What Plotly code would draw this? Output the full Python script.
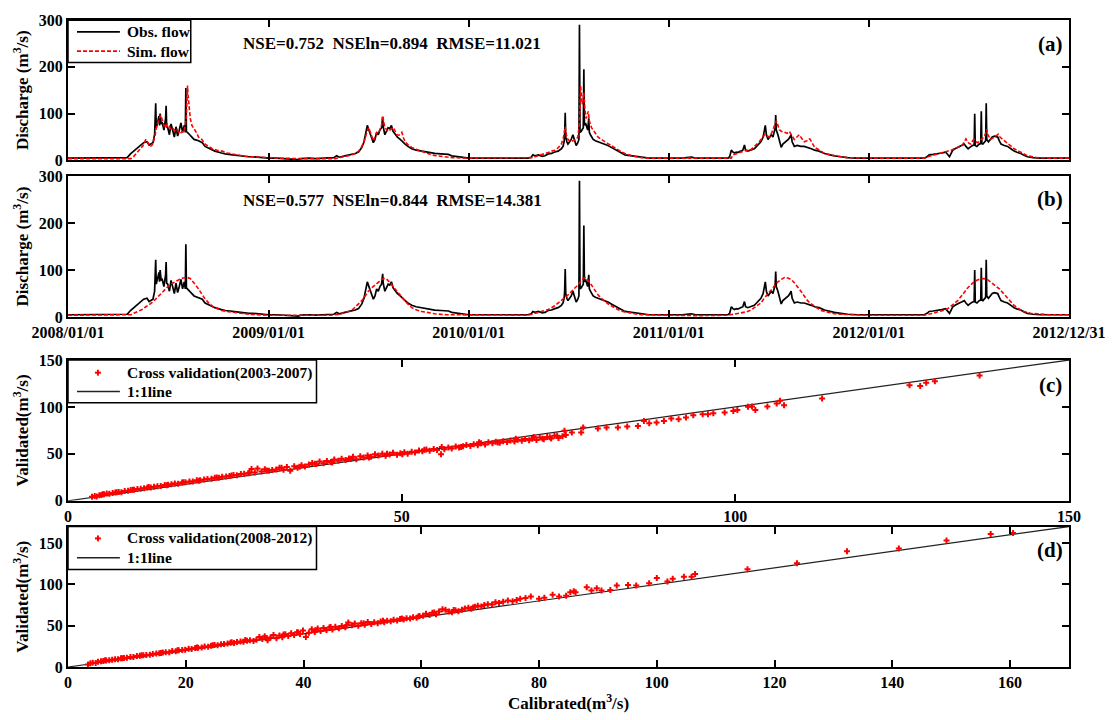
import pandas as pd
import plotly.graph_objects as go

# ---------------- data ----------------
START = "2008-01-01"
# observed flow (day offset from 2008-01-01, m3/s)
obs_day = [0, 20, 45, 50, 75, 95, 108, 114, 120, 126, 132, 138, 144, 148, 152, 155, 158, 160, 161, 164, 166, 167, 168, 170,
           172, 175, 178, 179, 180, 182, 185, 188, 191, 194, 197, 200, 203, 206, 209, 212, 214, 215, 216, 218, 222, 226,
           230, 238, 245, 250, 260, 268, 280, 287, 300, 311, 330, 336, 355, 366,
           380, 400, 415, 420, 425, 440, 451, 469, 485, 490, 495, 505, 515, 524, 530, 536, 540, 542, 544, 546, 548, 551,
           554, 557, 560, 563, 566, 569, 572, 574, 575, 578, 581, 584, 587, 590, 593, 597, 601, 606, 610, 615, 620, 627,
           635, 645, 655, 669, 680, 694, 700, 710, 718, 731, 754, 791, 820, 839,
           845, 848, 852, 858, 865, 870, 876, 882, 888, 894, 900, 903, 905, 906, 907, 908, 910, 912, 915, 918, 921, 924,
           927, 930, 932, 933, 934, 936, 938, 940, 941, 942, 944, 946, 948, 950, 951, 953, 955, 958, 962, 967, 972, 979,
           985, 991, 997, 1003, 1010, 1016, 1022, 1028, 1037, 1046, 1060, 1076, 1098, 1120, 1137, 1145, 1161, 1185, 1204,
           1207, 1210, 1213, 1216, 1219, 1222, 1225, 1228, 1231, 1234, 1236, 1240, 1244, 1248, 1252, 1256, 1260, 1264,
           1268, 1270, 1272, 1274, 1277, 1280, 1283, 1286, 1288, 1290, 1291, 1292, 1295, 1298, 1301, 1304, 1307, 1310,
           1314, 1317, 1319, 1321, 1325, 1330, 1337, 1343, 1350, 1356, 1362, 1370, 1380, 1390, 1398, 1410, 1422, 1440,
           1461, 1490, 1513, 1540, 1562, 1567, 1571, 1578, 1586, 1594, 1601, 1605, 1608, 1611, 1614, 1618, 1622, 1626,
           1630, 1635, 1638, 1642, 1645, 1647, 1650, 1653, 1654, 1655, 1658, 1662, 1665, 1666, 1667, 1669, 1672, 1674,
           1675, 1676, 1679, 1683, 1686, 1690, 1696, 1699, 1702, 1708, 1714, 1720, 1726, 1732, 1738, 1744, 1750, 1760,
           1774, 1800, 1826]
obs_val = [5, 5, 6, 6, 6, 5, 6, 14, 20, 25, 30, 38, 40, 33, 36, 38, 55, 122, 70, 85, 95, 75, 100, 78,
           80, 65, 90, 117, 72, 70, 55, 78, 60, 50, 72, 52, 65, 80, 60, 75, 60, 155, 62, 60, 55, 50,
           45, 42, 38, 30, 25, 20, 16, 14, 12, 10, 8, 8, 6, 5,
           5, 4, 3, 2, 4, 5, 4, 5, 6, 10, 7, 10, 12, 15, 18, 28, 40, 52, 65, 75, 68, 60,
           48, 38, 45, 60, 55, 65, 70, 92, 72, 55, 62, 70, 68, 75, 62, 55, 50, 45, 40, 35, 30, 25,
           22, 20, 17, 15, 14, 13, 10, 8, 7, 5, 5, 5, 5, 5,
           7, 12, 10, 12, 9, 10, 14, 15, 18, 20, 25, 30, 40, 55, 102, 50, 40, 35, 40, 45, 55, 45,
           32, 38, 45, 290, 60, 62, 65, 70, 195, 75, 80, 72, 65, 90, 60, 55, 50, 45, 42, 40, 38, 36,
           32, 28, 24, 20, 15, 12, 11, 10, 8, 6, 5, 5, 5, 5, 7, 5, 5, 5, 5,
           8, 22, 18, 16, 18, 17, 19, 20, 22, 33, 22, 20, 22, 24, 25, 30, 35, 40,
           50, 60, 75, 55, 45, 50, 55, 50, 60, 70, 97, 65, 55, 40, 28, 35, 38, 40,
           45, 50, 55, 40, 30, 32, 30, 30, 28, 25, 22, 20, 15, 12, 10, 8, 6, 5,
           5, 5, 5, 5, 5, 8, 12, 13, 14, 16, 18, 12, 8, 15, 22, 25, 28, 30,
           32, 35, 30, 25, 28, 30, 32, 33, 100, 32, 30, 35, 36, 105, 36, 35, 40, 42,
           122, 45, 40, 45, 50, 52, 50, 42, 35, 32, 30, 25, 20, 17, 15, 11, 8, 6,
           5, 5, 5]

# simulated flow, panel (a)
sima_day = [0, 30, 60, 90, 115, 118, 123, 128, 132, 137, 142, 146, 150, 153, 156, 159, 162, 165, 169, 171, 173, 176, 178,
            181, 184, 187, 190, 193, 196, 199, 202, 205, 208, 211, 214, 216, 217, 218, 219, 221, 223, 226, 229, 232, 235,
            238, 241, 244, 250, 256, 263, 272, 281, 290, 299, 310, 323, 335, 348, 365, 384, 420, 458,
            487, 495, 505, 515, 524, 530, 536, 540, 543, 545, 548, 550, 553, 555, 557, 560, 563, 566, 569, 572, 574, 576,
            578, 581, 584, 587, 590, 594, 597, 600, 604, 607, 609, 612, 615, 620, 627, 635, 645, 655, 663, 672, 682, 700,
            731, 780, 839,
            846, 852, 858, 864, 870, 876, 882, 888, 894, 900, 904, 907, 909, 912, 915, 918, 921, 924, 927, 930, 933, 935,
            937, 938, 940, 941, 943, 945, 947, 949, 951, 952, 955, 958, 962, 967, 973, 979, 985, 991, 997, 1003, 1010,
            1016, 1022, 1028, 1037, 1046, 1060, 1088, 1150, 1210,
            1213, 1217, 1222, 1228, 1234, 1238, 1243, 1248, 1252, 1256, 1261, 1266, 1271, 1275, 1280, 1284, 1288, 1290,
            1292, 1295, 1298, 1302, 1307, 1312, 1316, 1319, 1322, 1325, 1329, 1334, 1338, 1343, 1348, 1352, 1354, 1358,
            1362, 1368, 1374, 1380, 1390, 1398, 1410, 1422, 1440, 1461,
            1500, 1562, 1568, 1574, 1580, 1586, 1592, 1598, 1605, 1611, 1617, 1623, 1629, 1633, 1636, 1638, 1641, 1644,
            1647, 1650, 1653, 1656, 1659, 1662, 1666, 1669, 1671, 1674, 1676, 1678, 1680, 1683, 1687, 1691, 1695, 1697,
            1700, 1705, 1709, 1714, 1720, 1726, 1732, 1738, 1744, 1750, 1758, 1768, 1790, 1826]
sima_val = [4, 4, 4, 4, 4, 6, 12, 18, 25, 32, 45, 38, 30, 32, 40, 55, 75, 85, 97, 90, 80, 72, 70,
            78, 75, 68, 70, 65, 62, 66, 60, 58, 62, 60, 75, 95, 130, 160, 140, 110, 90, 75, 70, 65, 58,
            50, 48, 45, 35, 30, 25, 22, 20, 16, 14, 11, 9, 8, 7, 6, 5, 4, 4,
            4, 6, 8, 11, 15, 20, 30, 40, 52, 62, 70, 65, 55, 48, 42, 50, 60, 58, 65, 75, 96, 80,
            70, 66, 62, 65, 68, 70, 62, 55, 54, 58, 60, 48, 40, 34, 28, 24, 20, 15, 12, 10, 8, 6,
            5, 5, 5,
            6, 8, 10, 13, 15, 17, 20, 22, 27, 35, 50, 72, 55, 45, 42, 40, 42, 44, 45, 50, 80, 160,
            130, 120, 135, 145, 110, 90, 95, 105, 85, 80, 70, 65, 58, 50, 45, 40, 36, 32, 27, 22, 18,
            15, 12, 10, 8, 6, 5, 5, 4, 5,
            12, 14, 15, 18, 20, 22, 20, 25, 30, 34, 40, 48, 55, 52, 50, 60, 70, 78,
            85, 75, 65, 62, 60, 58, 62, 55, 50, 45, 50, 55, 48, 40, 42, 46, 45, 35,
            28, 24, 20, 15, 12, 10, 8, 6, 5, 5,
            5, 5, 8, 10, 12, 14, 15, 18, 20, 22, 25, 28, 30, 36, 42, 46, 40, 36,
            35, 42, 45, 40, 38, 40, 45, 48, 50, 58, 67, 55, 50, 45, 48, 52, 55, 56,
            50, 45, 40, 35, 30, 25, 21, 18, 14, 10, 8, 6, 5, 5]

# simulated flow, panel (b)
simb_day = [0, 60, 105, 115, 120, 128, 135, 142, 150, 158, 165, 172, 180, 188, 195, 203, 210, 218, 223, 228, 233, 238,
            243, 248, 253, 258, 265, 272, 280, 290, 300, 315, 330, 350, 365, 420, 480,
            495, 505, 512, 520, 528, 536, 542, 548, 555, 563, 568, 572, 577, 581, 586, 590, 595, 600, 606, 612, 619, 627,
            636, 645, 657, 669, 690, 706, 760, 839,
            846, 852, 864, 876, 888, 900, 906, 913, 918, 924, 930, 935, 940, 944, 949, 955, 961, 967, 973, 979, 985, 994,
            1003, 1012, 1022, 1034, 1046, 1080, 1150, 1204,
            1216, 1228, 1237, 1246, 1255, 1264, 1270, 1277, 1283, 1289, 1295, 1301, 1307, 1313, 1319, 1325, 1331, 1337,
            1343, 1349, 1356, 1362, 1368, 1374, 1386, 1398, 1410, 1435, 1459, 1520,
            1562, 1574, 1586, 1596, 1605, 1614, 1623, 1632, 1641, 1650, 1659, 1665, 1671, 1677, 1683, 1691, 1699, 1705,
            1711, 1718, 1726, 1735, 1744, 1756, 1768, 1790, 1826]
simb_val = [4, 4, 4, 5, 8, 12, 16, 22, 28, 36, 45, 53, 62, 70, 75, 80, 83, 84, 82, 76, 68, 60,
            50, 42, 35, 28, 22, 18, 14, 12, 10, 8, 6, 5, 4, 4, 4,
            6, 9, 12, 17, 25, 35, 45, 55, 63, 70, 76, 80, 82, 81, 76, 70, 62, 55, 46, 38, 29, 20,
            15, 12, 9, 7, 5, 5, 4, 4,
            6, 8, 12, 16, 24, 35, 42, 48, 54, 60, 68, 76, 82, 84, 78, 68, 56, 47, 40, 33, 28, 22,
            16, 12, 9, 7, 5, 4, 3, 4,
            6, 8, 11, 15, 22, 30, 40, 50, 60, 68, 75, 80, 84, 83, 80, 73, 65, 55,
            45, 35, 28, 22, 18, 14, 10, 7, 6, 5, 4, 4,
            4, 7, 10, 14, 18, 26, 35, 48, 62, 72, 79, 81, 82, 80, 75, 68, 60, 52,
            45, 35, 25, 17, 12, 8, 7, 5, 5]

date_ticks = ["2008-01-01", "2009-01-01", "2010-01-01", "2011-01-01", "2012-01-01", "2012-12-31"]
date_labels = ["2008/01/01", "2009/01/01", "2010/01/01", "2011/01/01", "2012/01/01", "2012/12/31"]

# cross validation (2003-2007): calibrated vs validated
c_cal = [3.6, 4.0, 4.3, 4.7, 5.0, 5.4, 5.8, 6.2, 6.7, 7.1, 7.6, 8.0, 8.5, 9.0, 9.4, 9.9, 10.4, 10.9, 11.4, 11.9,
         12.4, 12.9, 13.4, 13.9, 14.5, 15.0, 15.5, 16.0, 16.5, 17.1, 17.6, 18.2, 18.7, 19.3, 19.8, 20.4, 20.9, 21.5,
         22.0, 22.6, 23.1, 23.7, 24.2, 24.8, 25.3, 25.9, 26.4, 27.0, 27.5, 28.0, 28.4, 29.0, 29.5, 30.1, 30.6, 31.2,
         31.7, 32.3, 32.8, 33.3, 33.9, 34.4, 35.0, 35.5, 36.1, 36.6, 37.2, 37.7, 38.3, 38.8, 39.4, 39.9, 40.5, 41.0,
         41.6, 42.1, 42.7, 43.2, 43.8, 44.3, 44.9, 45.4, 46.0, 46.5, 47.1, 47.6, 48.2, 48.7, 49.3, 49.8, 50.4, 50.9,
         51.5, 52.0, 52.6, 53.1, 53.7, 54.2, 54.8, 55.3, 55.9, 56.4, 57.0, 57.5, 58.1, 58.6, 59.2, 59.7, 60.3, 60.8,
         61.4, 61.9, 62.5, 63.0, 63.6, 64.1, 64.7, 65.2, 65.8, 66.3, 66.9, 67.4, 68.0, 68.5, 69.1, 69.6, 70.2, 70.7,
         71.1, 71.3, 71.8, 72.2, 72.4, 72.9, 73.3, 73.5, 74.1, 74.4, 74.6, 75.5, 76.9, 77.2, 79.4, 80.7, 82.4, 83.8,
         85.4, 86.3, 87.1, 88.2, 89.3, 90.4, 91.5, 92.6, 93.7, 95.1, 95.9, 96.7, 98.4, 99.7, 100.3, 101.9, 102.5,
         103.0, 104.8, 106.2, 106.7, 107.3, 113.0, 126.1, 127.7, 128.6, 129.9, 136.6,
         5.2, 7.3, 9.7, 12.1, 14.8, 17.3, 19.6, 22.3, 24.5, 27.2, 29.8, 32.0, 34.7, 37.0, 39.6, 42.4, 45.1, 47.8,
         50.1, 53.4, 56.0, 58.9, 61.6, 64.4, 67.1, 69.8]
c_val = [4.2, 5.0, 4.6, 5.8, 6.2, 6.9, 7.7, 7.5, 8.4, 8.9, 9.5, 9.2, 10.4, 10.8, 11.5, 11.7, 12.6, 12.9, 13.3, 14.1,
         14.2, 15.0, 15.6, 15.7, 16.8, 17.1, 17.6, 18.3, 18.2, 19.4, 19.8, 20.5, 20.6, 21.8, 21.9, 22.7, 23.2, 23.6,
         24.5, 24.6, 25.7, 25.9, 26.3, 27.5, 27.2, 28.6, 28.9, 29.3, 33.8, 30.1, 34.5, 31.2, 33.6, 31.9, 32.8, 33.4,
         35.2, 33.1, 35.9, 32.0, 36.8, 35.1, 37.9, 36.5, 38.6, 40.4, 39.1, 41.8, 40.0, 42.5, 41.3, 43.9, 42.6, 44.7,
         43.5, 45.2, 46.8, 44.3, 47.5, 46.1, 48.3, 46.9, 49.6, 48.2, 50.1, 47.9, 49.4, 51.3, 49.0, 50.6, 51.8, 50.2,
         52.3, 51.4, 53.5, 52.7, 54.6, 53.3, 55.1, 54.0, 49.6, 54.9, 56.8, 55.6, 57.9, 56.7, 58.1, 59.5, 58.4, 60.2,
         59.1, 61.3, 60.0, 62.4, 61.2, 63.0, 61.8, 63.5, 62.6, 64.2, 63.1, 65.0, 63.9, 65.8, 64.6, 66.2, 64.8, 67.4,
         66.5, 65.5, 68.0, 67.6, 66.4, 69.3, 69.3, 67.0, 68.8, 74.6, 70.1, 72.8, 72.8, 78.1, 77.0, 78.1, 78.1, 79.2,
         79.8, 85.1, 82.6, 83.4, 85.1, 87.6, 87.0, 88.7, 91.2, 92.3, 92.3, 93.3, 94.0, 95.8, 96.8, 100.3, 100.6,
         96.8, 100.6, 103.8, 106.7, 101.7, 109.1, 123.2, 122.2, 125.7, 127.4, 133.4,
         7.1, 9.0, 11.9, 14.6, 16.5, 19.8, 21.4, 24.8, 26.9, 29.9, 32.3, 35.3, 36.4, 39.5, 40.9, 44.6, 46.2, 50.0,
         49.7, 54.5, 57.4, 57.2, 62.3, 62.2, 66.0, 67.9]

# cross validation (2008-2012)
d_cal = [3.4, 3.8, 4.2, 4.7, 5.1, 5.6, 6.0, 6.5, 7.0, 7.5, 8.0, 8.5, 9.0, 9.5, 10.0, 10.6, 11.1, 11.7, 12.2, 12.8,
         13.3, 13.9, 14.4, 15.0, 15.5, 16.1, 16.6, 17.2, 17.7, 18.3, 18.8, 19.4, 19.9, 20.5, 21.0, 21.6, 22.1, 22.7,
         23.2, 23.8, 24.3, 24.9, 25.4, 26.0, 26.5, 27.1, 27.6, 28.2, 28.7, 29.3, 29.8, 30.4, 30.9, 31.5, 32.0, 32.5,
         33.0, 33.4, 33.9, 34.4, 34.9, 35.4, 35.9, 36.4, 36.9, 37.4, 37.9, 38.4, 38.9, 39.4, 39.9, 40.4, 40.9, 41.4,
         41.9, 42.4, 42.9, 43.4, 43.9, 44.4, 44.9, 45.4, 46.0, 46.5, 47.1, 47.6, 48.2, 48.7, 49.3, 49.8, 50.4, 50.9,
         51.5, 52.0, 52.6, 53.1, 53.7, 54.2, 54.8, 55.3, 55.9, 56.4, 57.0, 57.5, 58.1, 58.6, 59.2, 59.7, 60.3, 60.8,
         61.4, 61.9, 62.5, 63.0, 63.6, 64.1, 64.7, 65.2, 65.8, 66.3, 66.9, 67.4, 68.0, 68.5, 69.1, 69.6, 70.2, 70.7,
         71.3, 72.0, 72.6, 73.2, 73.9, 74.7, 75.5, 76.2, 76.8, 77.7, 78.6, 80.0, 80.9, 82.3, 83.4, 84.6, 85.3, 85.9,
         86.2, 88.1, 88.9, 89.8, 90.6, 92.1, 93.2, 95.1, 96.5, 98.7, 100.0, 101.8, 102.7, 104.6, 105.9, 106.5,
         115.4, 123.8, 132.3, 141.1, 149.2, 156.7, 160.5,
         6.3, 9.2, 12.5, 15.8, 18.6, 21.9, 24.6, 27.8, 30.1, 33.7, 36.6, 39.1, 42.0, 44.6, 47.3, 50.2, 53.5, 56.7,
         59.5, 62.2, 65.5, 68.8]
d_val = [3.0, 4.5, 5.2, 4.9, 6.3, 6.9, 7.2, 8.0, 8.1, 8.9, 9.5, 9.4, 10.6, 10.9, 11.3, 12.1, 12.0, 13.2, 13.5, 14.1,
         14.6, 14.9, 15.8, 16.3, 16.5, 17.4, 17.9, 18.0, 19.3, 19.2, 20.3, 20.6, 20.9, 22.0, 21.8, 22.9, 23.4, 23.6,
         24.7, 24.5, 25.8, 26.6, 26.3, 27.5, 27.9, 28.4, 29.2, 29.0, 30.3, 30.9, 30.6, 31.8, 32.3, 31.4, 33.1, 36.2,
         34.0, 37.1, 32.5, 35.8, 38.6, 34.7, 38.0, 36.1, 39.7, 37.5, 40.8, 38.6, 42.1, 40.0, 44.3, 36.2, 41.5, 45.8,
         42.4, 46.5, 43.6, 47.2, 44.7, 47.9, 45.5, 48.8, 47.0, 49.6, 48.1, 53.9, 50.4, 52.5, 50.0, 53.0, 51.2, 54.6,
         52.0, 54.1, 52.8, 55.0, 54.2, 56.0, 55.3, 57.1, 56.4, 58.0, 57.4, 58.9, 58.6, 60.3, 59.7, 61.6, 62.0, 64.3,
         62.8, 65.5, 63.7, 67.2, 70.0, 69.4, 67.3, 66.4, 68.6, 67.5, 69.2, 70.8, 71.6, 70.5, 72.9, 74.0, 73.2, 75.1,
         76.0, 75.6, 78.4, 77.3, 79.1, 80.5, 79.6, 81.2, 82.6, 83.4, 85.3, 82.6, 83.8, 87.3, 85.4, 86.2, 90.5, 91.6,
         90.5, 96.5, 92.5, 95.3, 92.5, 93.3, 98.5, 99.3, 98.5, 101.2, 107.6, 103.6, 106.8, 109.2, 109.2, 112.4,
         118.4, 125.5, 140.2, 143.4, 153.0, 160.9, 162.1,
         8.1, 10.6, 14.2, 17.0, 20.4, 23.7, 26.2, 29.9, 32.6, 35.1, 39.4, 41.9, 44.4, 48.5, 50.6, 52.9, 55.9, 58.8,
         61.0, 66.0, 68.9, 72.1]

one_c = [0, 150]
one_d = [0, 170]

# ---------------- figure ----------------
FONT = "Liberation Serif"
W, H = 1117, 720
L, R, T, B = 68, 46, 13, 53


def px(xp):
    return (xp - L) / (W - L - R)


def py(yp):
    return (H - B - yp) / (H - T - B)


base = pd.Timestamp(START)
obs_x = base + pd.to_timedelta(obs_day, unit="D")
sima_x = base + pd.to_timedelta(sima_day, unit="D")
simb_x = base + pd.to_timedelta(simb_day, unit="D")

RED = "#ff0000"
fig = go.Figure()
fig.add_trace(go.Scatter(x=obs_x, y=obs_val, mode="lines", name="Obs. flow",
                         line=dict(color="black", width=1.7), xaxis="x", yaxis="y"))
fig.add_trace(go.Scatter(x=sima_x, y=sima_val, mode="lines", name="Sim. flow",
                         line=dict(color=RED, width=1.6, dash="4px,2px"), xaxis="x", yaxis="y"))
fig.add_trace(go.Scatter(x=obs_x, y=obs_val, mode="lines", name="Obs. flow",
                         line=dict(color="black", width=1.7), xaxis="x2", yaxis="y2"))
fig.add_trace(go.Scatter(x=simb_x, y=simb_val, mode="lines", name="Sim. flow",
                         line=dict(color=RED, width=1.6, dash="4px,2px"), xaxis="x2", yaxis="y2"))
fig.add_trace(go.Scatter(x=one_c, y=one_c, mode="lines", name="1:1line",
                         line=dict(color="#222222", width=1.2), xaxis="x3", yaxis="y3"))
fig.add_trace(go.Scatter(x=c_cal, y=c_val, mode="markers", name="Cross validation(2003-2007)",
                         marker=dict(color=RED, size=5, symbol="cross"), xaxis="x3", yaxis="y3"))
fig.add_trace(go.Scatter(x=one_d, y=one_d, mode="lines", name="1:1line",
                         line=dict(color="#222222", width=1.2), xaxis="x4", yaxis="y4"))
fig.add_trace(go.Scatter(x=d_cal, y=d_val, mode="markers", name="Cross validation(2008-2012)",
                         marker=dict(color=RED, size=5, symbol="cross"), xaxis="x4", yaxis="y4"))

tickfont = dict(family=FONT, size=16, color="black", weight="bold")
titlefont = dict(family=FONT, size=17, color="black", weight="bold")
common = dict(showline=True, linecolor="black", linewidth=2, mirror="ticks", ticks="inside", ticklen=7,
              tickwidth=1.5, tickcolor="black", showgrid=False, zeroline=False, tickfont=tickfont)

dom = {"a": [py(155), 1.0], "b": [py(313.3), py(170.7)], "c": [py(499), py(356.7)], "d": [0.0, py(525)]}

fig.update_layout(
    width=W, height=H, showlegend=False,
    margin=dict(l=L, r=R, t=T, b=B),
    paper_bgcolor="white", plot_bgcolor="white",
    font=dict(family=FONT, size=16, color="black", weight="bold"),
    xaxis=dict(common, domain=[0, 1], anchor="y", type="date", range=["2008-01-01", "2012-12-31"],
               tickvals=date_ticks, ticktext=date_labels, showticklabels=False),
    yaxis=dict(common, domain=dom["a"], anchor="x", range=[0, 300], tickvals=[0, 100, 200, 300],
               title=dict(text="Discharge (m<sup>3</sup>/s)", font=titlefont, standoff=6)),
    xaxis2=dict(common, domain=[0, 1], anchor="y2", type="date", range=["2008-01-01", "2012-12-31"],
                tickvals=date_ticks, ticktext=date_labels),
    yaxis2=dict(common, domain=dom["b"], anchor="x2", range=[0, 300], tickvals=[0, 100, 200, 300],
                title=dict(text="Discharge (m<sup>3</sup>/s)", font=titlefont, standoff=6)),
    xaxis3=dict(common, domain=[0, 1], anchor="y3", range=[0, 150], tickvals=[0, 50, 100, 150]),
    yaxis3=dict(common, domain=dom["c"], anchor="x3", range=[0, 150], tickvals=[0, 50, 100, 150],
                title=dict(text="Validated(m<sup>3</sup>/s)", font=titlefont, standoff=6)),
    xaxis4=dict(common, domain=[0, 1], anchor="y4", range=[0, 170], tickvals=[0, 20, 40, 60, 80, 100, 120, 140, 160],
                title=dict(text="Calibrated(m<sup>3</sup>/s)", font=titlefont, standoff=4)),
    yaxis4=dict(common, domain=dom["d"], anchor="x4", range=[0, 170], tickvals=[0, 50, 100, 150],
                title=dict(text="Validated(m<sup>3</sup>/s)", font=titlefont, standoff=6)),
)

# ---- legend boxes (drawn as shapes + text, matching the reference box geometry) ----
leg_font = dict(family=FONT, size=15.5, color="black", weight="bold")
shapes = []
legend_texts = []


def legend_box(x0, y0, x1, y1):
    shapes.append(dict(type="rect", xref="paper", yref="paper", x0=px(x0), x1=px(x1), y0=py(y1), y1=py(y0),
                       line=dict(color="black", width=1.5), fillcolor="white", layer="above"))


def legend_line(yp, color, dash):
    shapes.append(dict(type="line", xref="paper", yref="paper", x0=px(77), x1=px(120), y0=py(yp), y1=py(yp),
                       line=dict(color=color, width=1.6, dash=dash), layer="above"))


def legend_marker(yp):
    for dx, dy in [(3, 0), (0, 3)]:
        shapes.append(dict(type="line", xref="paper", yref="paper", x0=px(98 - dx), x1=px(98 + dx),
                           y0=py(yp - dy), y1=py(yp + dy), line=dict(color=RED, width=2), layer="above"))


def legend_text(text, yp):
    legend_texts.append(dict(text=text, x=px(125), y=py(yp), xanchor="left", yanchor="middle", font=leg_font))


legend_box(68, 13.3, 191, 56)
legend_line(25, "black", "solid")
legend_line(44.5, RED, "4px,2px")
legend_text("Obs. flow", 25)
legend_text("Sim. flow", 44.5)

legend_box(68, 356.7, 317, 400)
legend_marker(369.5)
legend_line(388.5, "#222222", "solid")
legend_text("Cross validation(2003-2007)", 369.5)
legend_text("1:1line", 388.5)

legend_box(68, 525, 317, 568.5)
legend_marker(537)
legend_line(556.5, "#222222", "solid")
legend_text("Cross validation(2008-2012)", 537)
legend_text("1:1line", 556.5)

fig.update_layout(shapes=shapes)

ann_font = dict(family=FONT, size=17, color="black", weight="bold")
lab_font = dict(family=FONT, size=21, color="black", weight="bold")
annotations = [
    dict(text="NSE=0.752  NSEln=0.894  RMSE=11.021", x=px(393), y=py(37), font=ann_font,
         xanchor="center", yanchor="middle"),
    dict(text="NSE=0.577  NSEln=0.844  RMSE=14.381", x=px(393), y=py(195), font=ann_font,
         xanchor="center", yanchor="middle"),
    dict(text="(a)", x=px(1052), y=py(37), font=lab_font, xanchor="center", yanchor="middle"),
    dict(text="(b)", x=px(1052), y=py(194), font=lab_font, xanchor="center", yanchor="middle"),
    dict(text="(c)", x=px(1052), y=py(382), font=lab_font, xanchor="center", yanchor="middle"),
    dict(text="(d)", x=px(1052), y=py(549), font=lab_font, xanchor="center", yanchor="middle"),
] + legend_texts
for a in annotations:
    fig.add_annotation(xref="paper", yref="paper", showarrow=False, **a)

fig.write_html("out.html")
